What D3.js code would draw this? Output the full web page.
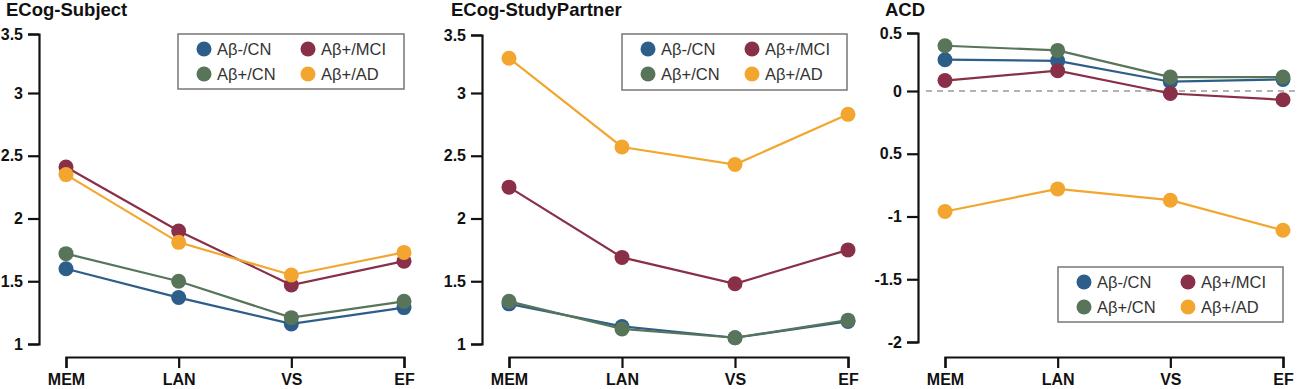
<!DOCTYPE html>
<html>
<head>
<meta charset="utf-8">
<script src="https://cdn.jsdelivr.net/npm/d3@7"></script>
<style>
  html, body { margin: 0; padding: 0; background: #fff; }
  svg { display: block; }
  text { font-family: "Liberation Sans", Arial, sans-serif; }
</style>
</head>
<body>
<svg id="chart" width="1300" height="389"></svg>
<script>
// ---------- data ----------
const categories = ["MEM", "LAN", "VS", "EF"];
const groups = ["Aβ-/CN", "Aβ+/CN", "Aβ+/MCI", "Aβ+/AD"];
const groupColors = ["#2d5e8a", "#58755a", "#8a2f48", "#f2a62f"];

// ECog-Subject
const subjNegCN  = [1.60, 1.37, 1.16, 1.29];
const subjPosCN  = [1.72, 1.50, 1.21, 1.34];
const subjPosMCI = [2.41, 1.90, 1.47, 1.66];
const subjPosAD  = [2.35, 1.81, 1.55, 1.73];

// ECog-StudyPartner
const spNegCN  = [1.32, 1.14, 1.05, 1.18];
const spPosCN  = [1.34, 1.12, 1.05, 1.19];
const spPosMCI = [2.25, 1.69, 1.48, 1.75];
const spPosAD  = [3.30, 2.57, 2.43, 2.83];

// ACD
const acdNegCN  = [0.27, 0.26, 0.08, 0.10];
const acdPosCN  = [0.39, 0.35, 0.12, 0.12];
const acdPosMCI = [0.09, 0.175, -0.02, -0.07];
const acdPosAD  = [-0.96, -0.78, -0.87, -1.11];

const ecogTicks = [1, 1.5, 2, 2.5, 3, 3.5];
const ecogTickLabels = ["1", "1.5", "2", "2.5", "3", "3.5"];
const acdTicks = [-2, -1.5, -1, -0.5, 0, 0.5];
const acdTickLabels = ["-2", "-1.5", "-1", "0.5", "0", "0.5"];

// ---------- layout ----------
const panels = [
  { title: "ECog-Subject", titleX: 6, axisX: 39, x0: 66, x1: 404,
    yDomain: [1, 3, 3.5], yRange: [344, 93, 34],
    ticks: ecogTicks, tickLabels: ecogTickLabels,
    series: [subjNegCN, subjPosCN, subjPosMCI, subjPosAD],
    legend: { x: 178, y: 34, w: 226, h: 55 }, zeroLine: false },
  { title: "ECog-StudyPartner", titleX: 451, axisX: 482, x0: 509, x1: 848,
    yDomain: [1, 3, 3.5], yRange: [344, 93, 35],
    ticks: ecogTicks, tickLabels: ecogTickLabels,
    series: [spNegCN, spPosCN, spPosMCI, spPosAD],
    legend: { x: 622, y: 34, w: 225, h: 56 }, zeroLine: false },
  { title: "ACD", titleX: 885, axisX: 918, x0: 945, x1: 1283,
    yDomain: [-2, 0, 0.5], yRange: [342, 91, 33],
    ticks: acdTicks, tickLabels: acdTickLabels,
    series: [acdNegCN, acdPosCN, acdPosMCI, acdPosAD],
    legend: { x: 1058, y: 267, w: 225, h: 55 }, zeroLine: true }
];

const svg = d3.select("#chart");
const xAxisY = 357;

panels.forEach(p => {
  const g = svg.append("g");
  const x = d3.scalePoint().domain(categories).range([p.x0, p.x1]).padding(0);
  const y = d3.scaleLinear().domain(p.yDomain).range(p.yRange);

  // title
  g.append("text").attr("x", p.titleX).attr("y", 16)
    .attr("font-size", 18.5).attr("font-weight", "bold").attr("fill", "#111")
    .text(p.title);

  // zero dashed line
  if (p.zeroLine) {
    g.append("line")
      .attr("x1", p.axisX + 8).attr("x2", 1298)
      .attr("y1", y(0)).attr("y2", y(0))
      .attr("stroke", "#9a9a9a").attr("stroke-width", 1.5)
      .attr("stroke-dasharray", "6,5");
  }

  // y axis
  const yAxis = d3.axisLeft(y)
    .tickValues(p.ticks)
    .tickFormat((d, i) => p.tickLabels[i])
    .tickSize(11).tickSizeOuter(11).tickPadding(5);
  const ya = g.append("g").attr("transform", `translate(${p.axisX},0)`).call(yAxis);
  ya.select(".domain").attr("stroke", "#111").attr("stroke-width", 2.2);
  ya.selectAll(".tick line").attr("stroke", "#111").attr("stroke-width", 2.2);
  ya.selectAll(".tick text").attr("font-size", 16).attr("font-weight", "bold")
    .attr("fill", "#111").attr("font-family", "Liberation Sans, Arial, sans-serif");

  // x axis
  const xAxis = d3.axisBottom(x).tickSize(11).tickSizeOuter(11).tickPadding(6);
  const xa = g.append("g").attr("transform", `translate(0,${xAxisY})`).call(xAxis);
  xa.select(".domain").attr("stroke", "#111").attr("stroke-width", 2.2);
  xa.selectAll(".tick line").attr("stroke", "#111").attr("stroke-width", 2.2);
  xa.selectAll(".tick text").attr("font-size", 16).attr("font-weight", "bold")
    .attr("fill", "#111").attr("font-family", "Liberation Sans, Arial, sans-serif");

  // series
  const line = d3.line().x((d, i) => x(categories[i])).y(d => y(d));
  p.series.forEach((vals, si) => {
    const sg = g.append("g");
    sg.append("path").datum(vals).attr("d", line)
      .attr("fill", "none").attr("stroke", groupColors[si]).attr("stroke-width", 2.2);
    sg.selectAll("circle").data(vals).join("circle")
      .attr("cx", (d, i) => x(categories[i])).attr("cy", d => y(d))
      .attr("r", 7.5).attr("fill", groupColors[si]);
  });

  // legend
  const L = p.legend;
  const lg = g.append("g").attr("transform", `translate(${L.x},${L.y})`);
  lg.append("rect").attr("width", L.w).attr("height", L.h)
    .attr("fill", "#fff").attr("stroke", "#777").attr("stroke-width", 1.5);
  const legendOrder = [0, 2, 1, 3];
  legendOrder.forEach((gi, k) => {
    const col = k % 2, row = Math.floor(k / 2);
    const cx = 26 + col * 104, cy = 15 + row * 25;
    lg.append("circle").attr("cx", cx).attr("cy", cy).attr("r", 7.5).attr("fill", groupColors[gi]);
    lg.append("text").attr("x", cx + 13).attr("y", cy).attr("dy", "0.36em")
      .attr("font-size", 16.5).attr("fill", "#333").text(groups[gi]);
  });
});
</script>
</body>
</html>
